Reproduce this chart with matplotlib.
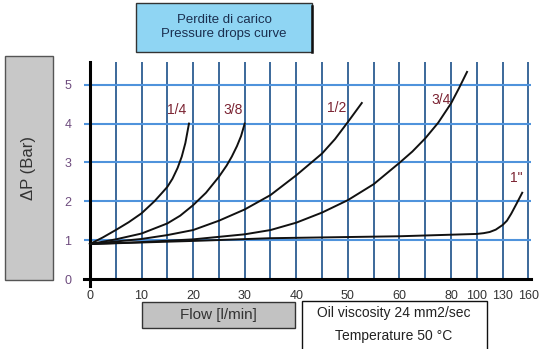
import numpy as np
import matplotlib
matplotlib.use("Agg")
import matplotlib.pyplot as plt
from matplotlib.patches import Rectangle

# flow axis is stretched by hand: 5 l/min steps up to 60, then coarser
flow_breaks = [-100, 0, 60, 80, 100, 130, 160, 460]
slot_breaks = [-20, 0, 12, 14, 15, 16, 17, 27]

x_ticks = [0, 10, 20, 30, 40, 50, 60, 80, 100, 130, 160]
x_grid = [0, 5, 10, 15, 20, 25, 30, 35, 40, 45, 50, 55, 60, 70, 80, 100, 130, 160]
y_ticks = [0, 1, 2, 3, 4, 5]

# pressure drop curves (flow l/min, dP bar)
q_14 = [0, 2.5, 5, 7.5, 10, 12.5, 14, 15, 16, 17, 17.8, 18.5, 19.2]
dp_14 = [0.9, 1.07, 1.26, 1.46, 1.69, 2.0, 2.22, 2.37, 2.58, 2.86, 3.15, 3.5, 4.0]

q_38 = [0, 5, 10, 15, 17.5, 20, 22.5, 25, 26.5, 27.5, 28.5, 29.3, 30]
dp_38 = [0.9, 1.02, 1.17, 1.43, 1.63, 1.9, 2.22, 2.63, 2.92, 3.15, 3.42, 3.68, 4.0]

q_12 = [0, 10, 15, 20, 25, 30, 35, 40, 45, 47.5, 50, 52.7]
dp_12 = [0.9, 1.03, 1.13, 1.26, 1.5, 1.79, 2.16, 2.67, 3.23, 3.6, 4.04, 4.53]

q_34 = [0, 10, 20, 30, 35, 40, 45, 50, 55, 60, 65, 70, 75, 80, 86, 92.4]
dp_34 = [0.9, 0.95, 1.02, 1.15, 1.26, 1.45, 1.71, 2.03, 2.44, 2.99, 3.28, 3.62, 4.02, 4.52, 4.9, 5.33]

q_1 = [0, 20, 35, 60, 80, 100, 108, 115, 122, 130, 135, 140, 146, 152.8]
dp_1 = [0.9, 0.98, 1.05, 1.1, 1.14, 1.16, 1.18, 1.21, 1.27, 1.39, 1.5, 1.68, 1.93, 2.22]

curves = [(q_14, dp_14), (q_38, dp_38), (q_12, dp_12), (q_34, dp_34), (q_1, dp_1)]
labels = ["1/4", "3/8", "1/2", "3/4", '1"']
label_pos = [(16.9, 4.35), (27.8, 4.35), (47.9, 4.4), (76.3, 4.6), (146, 2.6)]

W, H = 541, 349


def fwd(x):
    return np.interp(x, flow_breaks, slot_breaks)


def inv(s):
    return np.interp(s, slot_breaks, flow_breaks)


def box(ax_fig, x0, y0, x1, y1, fc, ec, lw=1.0):
    r = Rectangle((x0 / W, 1 - y1 / H), (x1 - x0) / W, (y1 - y0) / H,
                  transform=ax_fig.transFigure, facecolor=fc, edgecolor=ec,
                  linewidth=lw, zorder=0)
    ax_fig.add_artist(r)


plt.rcParams["font.family"] = ["Liberation Sans", "DejaVu Sans"]

fig = plt.figure(figsize=(W / 100, H / 100), dpi=100)
ax = fig.add_axes([84 / W, (H - 279) / H, (531 - 84) / W, (279 - 62) / H])
ax.set_xscale("function", functions=(fwd, inv))
ax.set_xlim(-1.15, 163)
ax.set_ylim(0, 5.585)

for s in ax.spines.values():
    s.set_visible(False)

ax.set_xticks(x_ticks)
ax.set_xticklabels([str(v) for v in x_ticks])
ax.set_yticks(y_ticks)
ax.set_xticks([], minor=True)
ax.tick_params(axis="x", length=0, pad=8, labelsize=9, labelcolor="#333333")
ax.tick_params(axis="y", length=0, pad=9, labelsize=9, labelcolor="#6e4c7e")

for v in x_grid:
    ax.axvline(v, color="#2c5d92", lw=1.3, zorder=1)
for v in y_ticks[1:]:
    ax.axhline(v, color="#4f93dc", lw=1.5, zorder=1)

ax.axhline(0, color="black", lw=2.2, zorder=3, clip_on=False)
ax.plot([0, 0], [-0.18, 5.585], color="black", lw=2.2, zorder=3, clip_on=False)

for (q, dp) in curves:
    ax.plot(q, dp, color="#111111", lw=1.4, zorder=4, solid_joinstyle="round")

for lab, (lx, ly) in zip(labels, label_pos):
    ax.text(lx, ly, lab, color="#7b2332", fontsize=10, ha="center", va="center", zorder=5)

# title box
box(fig, 136, 3, 312, 52, "#8fd5f3", "#333333", 1.0)
fig.add_artist(plt.Line2D([312 / W, 312 / W], [1 - 52 / H, 1 - 6 / H],
                          transform=fig.transFigure, color="#111111", lw=1.8))
fig.text(224 / W, 1 - 27 / H, "Perdite di carico\nPressure drops curve",
         ha="center", va="center", fontsize=9.5, color="#1a2f4f", linespacing=1.15)

# y label box
box(fig, 5, 56, 53, 280, "#c8c8c8", "#555555", 1.0)
fig.text(29 / W, 1 - 168 / H, "ΔP (Bar)", rotation=90, ha="center", va="center",
         fontsize=12, color="#333333")

# x label box
box(fig, 142, 302, 295, 328, "#c2c2c2", "#333333", 1.0)
fig.text(218 / W, 1 - 315 / H, "Flow [l/min]", ha="center", va="center",
         fontsize=11, color="#333333")

# conditions box
box(fig, 302, 301, 487, 360, "white", "#111111", 1.0)
fig.text(394 / W, 1 - 313 / H, "Oil viscosity 24 mm2/sec", ha="center", va="center",
         fontsize=10, color="#222222")
fig.text(394 / W, 1 - 336 / H, "Temperature 50 °C", ha="center", va="center",
         fontsize=10, color="#222222")

fig.savefig("out.png", dpi=100)
